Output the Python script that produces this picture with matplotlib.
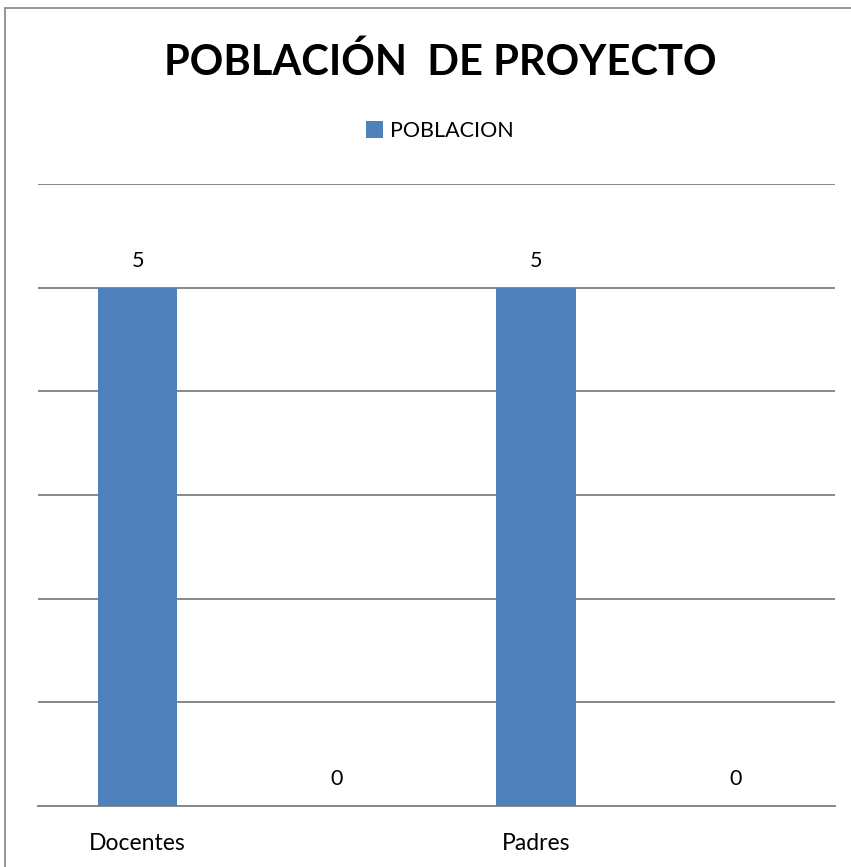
import matplotlib
matplotlib.use("Agg")
import matplotlib.pyplot as plt
from matplotlib.patches import Rectangle

categories = ["Docentes", "", "Padres", ""]
values = [5, 0, 5, 0]
series_name = "POBLACION"
title = "POBLACIÓN  DE PROYECTO"

plt.rcParams['font.family'] = ['Lato', 'DejaVu Sans']

fig = plt.figure(figsize=(8.51, 8.67), dpi=100)
fig.patch.set_facecolor("white")
# outer chart border (left/top visible)
fig.add_artist(Rectangle((5/851, -0.05), 1.2, (1 - 8/867) + 0.05, transform=fig.transFigure,
                         fill=False, edgecolor="#8c8c8c", linewidth=1.3))

ax = fig.add_axes([38/851, 1 - 806/867, (835 - 38)/851, (806 - 184)/867])
x = list(range(len(categories)))
bars = ax.bar(x, values, width=0.4, color="#4f81bd", label=series_name, zorder=3)
ax.set_xlim(-0.5, len(categories) - 0.5)
ax.set_ylim(0, 6)
ax.set_yticks(range(0, 7))
ax.yaxis.grid(True, color="#888888", linewidth=1.4, zorder=0)
ax.tick_params(axis="y", left=False, labelleft=False)
ax.tick_params(axis="x", bottom=False, labelsize=16.5, pad=16)
ax.set_xticks(x)
ax.set_xticklabels(categories)
for s in ["top", "right", "left"]:
    ax.spines[s].set_visible(False)
ax.spines["bottom"].set_color("#888888")
ax.spines["bottom"].set_linewidth(1.4)
ax.bar_label(bars, labels=[str(v) for v in values], padding=12, fontsize=15.5)

fig.text(0.517, 1 - 62/867, title, ha="center", va="center", fontsize=30, fontweight="bold")
leg = fig.legend(loc="center", bbox_to_anchor=(0.517, 1 - 131/867), frameon=False,
                 fontsize=15.5, handlelength=0.8, handleheight=0.8, handletextpad=0.3)

fig.savefig("out.png", dpi=100, facecolor="white")
